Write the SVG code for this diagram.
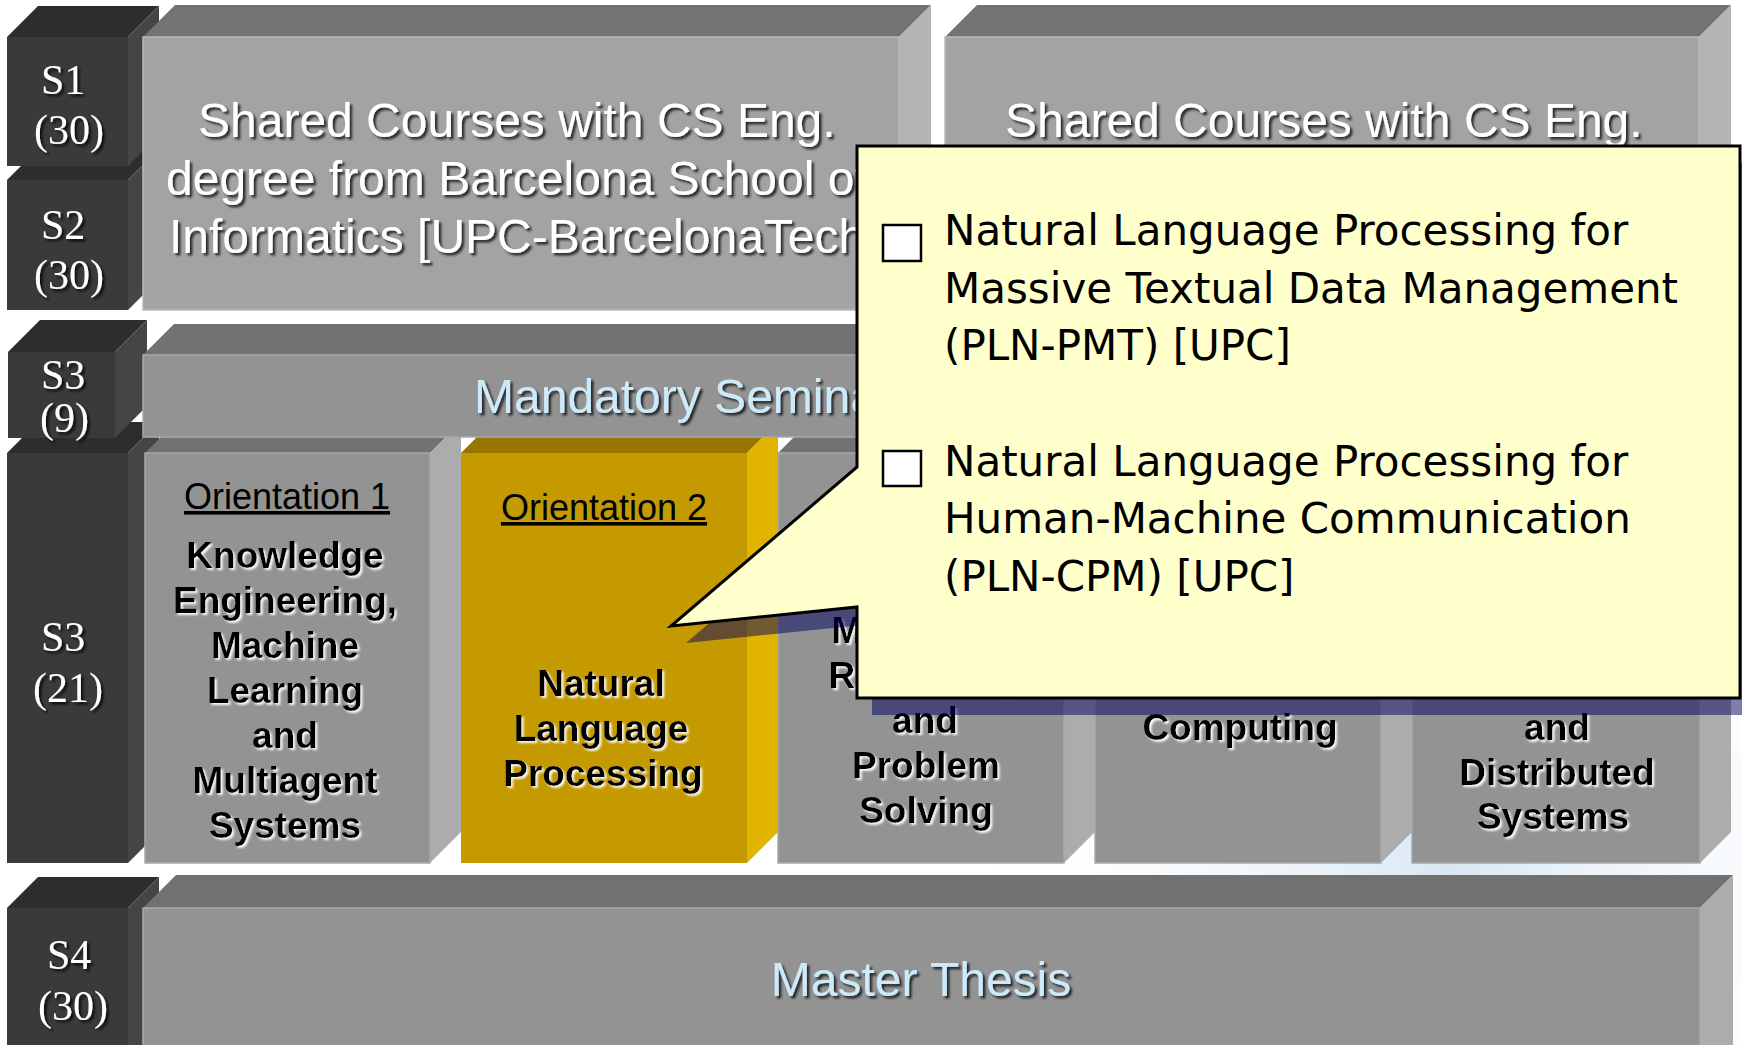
<svg xmlns="http://www.w3.org/2000/svg" width="1742" height="1045" viewBox="0 0 1742 1045">
<defs>
<style>
.dkF{fill:#3a3a3a}.dkT{fill:#2d2d2d}.dkS{fill:#454545}
.g1F{fill:#a3a3a3;stroke:#b9b9b9;stroke-width:1.5}.g1T{fill:#737373}.g1S{fill:#b4b4b4}
.g2F{fill:#939393;stroke:#a9a9a9;stroke-width:1.5}.g2T{fill:#717171}.g2S{fill:#acacac}
.orF{fill:#c49a00}.orT{fill:#987500}.orS{fill:#e1b400}
.lab{font-family:"Liberation Serif","Times New Roman",serif;font-size:42px;fill:#ffffff}
.big{font-family:"Liberation Sans",Arial,sans-serif;font-size:48px;fill:#ffffff}
.blue{font-family:"Liberation Sans",Arial,sans-serif;font-size:48px;fill:#cdeafa}
.ori{font-family:"Liberation Sans",Arial,sans-serif;font-size:36px;fill:#000000;text-anchor:middle;text-decoration:underline}
.bold{font-family:"Liberation Sans",Arial,sans-serif;font-size:37px;font-weight:bold;fill:#000000;text-anchor:middle}
.call{font-family:"DejaVu Sans",Verdana,sans-serif;font-size:42px;fill:#000000}
</style>
<filter id="dsh" x="-10%" y="-30%" width="120%" height="160%">
<feDropShadow dx="2.5" dy="2.5" stdDeviation="1.3" flood-color="#000000" flood-opacity="0.75"/>
</filter>
<filter id="lsh" x="-10%" y="-30%" width="120%" height="160%">
<feDropShadow dx="2" dy="2" stdDeviation="1" flood-color="#ffffff" flood-opacity="0.95"/>
</filter>
<radialGradient id="haze" cx="1450" cy="870" r="500" gradientUnits="userSpaceOnUse">
<stop offset="0" stop-color="#d9e7f3"/>
<stop offset="1" stop-color="#ffffff" stop-opacity="0"/>
</radialGradient>
</defs>

<rect width="1742" height="1045" fill="#ffffff"/>
<rect width="1742" height="1045" fill="url(#haze)"/>

<!-- Row 4 -->
<g id="s4">
<polygon class="dkT" points="7,908 38,877 159,877 128,908"/>
<polygon class="dkS" points="128,908 159,877 159,1060 128,1060"/>
<rect class="dkF" x="7" y="908" width="121" height="150"/>
<g filter="url(#dsh)">
<text class="lab" x="47" y="969">S4</text>
<text class="lab" x="38" y="1020">(30)</text>
</g>
</g>
<g id="master-thesis">
<polygon class="g2T" points="143,908 176,875 1733,875 1700,908"/>
<polygon class="g2S" points="1700,908 1733,875 1733,1060 1700,1060"/>
<rect class="g2F" x="143" y="908" width="1557" height="150"/>
<text class="blue" x="921" y="996" text-anchor="middle" filter="url(#dsh)">Master Thesis</text>
</g>

<!-- Row 3 -->
<g id="s3-21">
<polygon class="dkT" points="7,453 38,422 159,422 128,453"/>
<polygon class="dkS" points="128,453 159,422 159,832 128,863"/>
<rect class="dkF" x="7" y="453" width="121" height="410"/>
<g filter="url(#dsh)">
<text class="lab" x="41" y="651">S3</text>
<text class="lab" x="33" y="702">(21)</text>
</g>
</g>
<g id="orientation-1">
<polygon class="g2T" points="145,453 176,422 461,422 430,453"/>
<polygon class="g2S" points="430,453 461,422 461,832 430,863"/>
<rect class="g2F" x="145" y="453" width="285" height="410"/>
<text class="ori" x="287" y="509">Orientation 1</text>
<g filter="url(#lsh)">
<text class="bold" x="285" y="568">Knowledge</text>
<text class="bold" x="285" y="613">Engineering,</text>
<text class="bold" x="285" y="658">Machine</text>
<text class="bold" x="285" y="703">Learning</text>
<text class="bold" x="285" y="748">and</text>
<text class="bold" x="285" y="793">Multiagent</text>
<text class="bold" x="285" y="838">Systems</text>
</g>
</g>
<g id="orientation-2">
<polygon class="orT" points="461,453 492,422 778,422 747,453"/>
<polygon class="orS" points="747,453 778,422 778,832 747,863"/>
<rect class="orF" x="461" y="453" width="286" height="410"/>
<text class="ori" x="604" y="520">Orientation 2</text>
<g filter="url(#lsh)">
<text class="bold" x="601" y="696">Natural</text>
<text class="bold" x="601" y="741">Language</text>
<text class="bold" x="603" y="786">Processing</text>
</g>
</g>
<g id="orientation-3">
<polygon class="g2T" points="778,453 809,422 1095,422 1064,453"/>
<polygon class="g2S" points="1064,453 1095,422 1095,832 1064,863"/>
<rect class="g2F" x="778" y="453" width="286" height="410"/>
<g filter="url(#lsh)">
<text class="bold" x="923" y="643">Modelling,</text>
<text class="bold" x="923" y="688">Reasoning</text>
<text class="bold" x="925" y="733">and</text>
<text class="bold" x="926" y="778">Problem</text>
<text class="bold" x="926" y="823">Solving</text>
</g>
</g>
<g id="orientation-4">
<polygon class="g2T" points="1095,453 1126,422 1412,422 1381,453"/>
<polygon class="g2S" points="1381,453 1412,422 1412,832 1381,863"/>
<rect class="g2F" x="1095" y="453" width="286" height="410"/>
<g filter="url(#lsh)">
<text class="bold" x="1240" y="740">Computing</text>
</g>
</g>
<g id="orientation-5">
<polygon class="g2T" points="1412,453 1443,422 1731,422 1700,453"/>
<polygon class="g2S" points="1700,453 1731,422 1731,832 1700,863"/>
<rect class="g2F" x="1412" y="453" width="288" height="410"/>
<g filter="url(#lsh)">
<text class="bold" x="1557" y="740">and</text>
<text class="bold" x="1557" y="785">Distributed</text>
<text class="bold" x="1553" y="829">Systems</text>
</g>
</g>

<!-- Row 2 -->
<g id="s3-9">
<polygon class="dkT" points="8,352 40,320 147,320 115,352"/>
<polygon class="dkS" points="115,352 147,320 147,406 115,438"/>
<rect class="dkF" x="8" y="352" width="107" height="86"/>
<g filter="url(#dsh)">
<text class="lab" x="41" y="389" font-size="40">S3</text>
<text class="lab" x="40" y="432" font-size="40">(9)</text>
</g>
</g>
<g id="mandatory-seminars">
<polygon class="g2T" points="143,355 174,324 1730,324 1699,355"/>
<polygon class="g2S" points="1699,355 1730,324 1730,406 1699,437"/>
<rect class="g2F" x="143" y="355" width="1556" height="82"/>
<text class="blue" x="474" y="413" filter="url(#dsh)">Mandatory Seminars</text>
</g>

<!-- Row 1 -->
<g id="s2">
<polygon class="dkT" points="7,180 38,149 159,149 128,180"/>
<polygon class="dkS" points="128,180 159,149 159,279 128,310"/>
<rect class="dkF" x="7" y="180" width="121" height="130"/>
<g filter="url(#dsh)">
<text class="lab" x="41" y="239">S2</text>
<text class="lab" x="34" y="289">(30)</text>
</g>
</g>
<g id="s1">
<polygon class="dkT" points="7,37 38,6 159,6 128,37"/>
<polygon class="dkS" points="128,37 159,6 159,135 128,166"/>
<rect class="dkF" x="7" y="37" width="121" height="129"/>
<g filter="url(#dsh)">
<text class="lab" x="41" y="94">S1</text>
<text class="lab" x="34" y="144">(30)</text>
</g>
</g>
<g id="shared-courses-1">
<polygon class="g1T" points="143,37 175,5 931,5 899,37"/>
<polygon class="g1S" points="899,37 931,5 931,278 899,310"/>
<rect class="g1F" x="143" y="37" width="756" height="273"/>
<g filter="url(#dsh)">
<text class="big" x="198" y="137">Shared Courses with CS Eng.</text>
<text class="big" x="166" y="195">degree from Barcelona School of</text>
<text class="big" x="169" y="253">Informatics [UPC-BarcelonaTech]</text>
</g>
</g>
<g id="shared-courses-2">
<polygon class="g1T" points="945,37 977,5 1731,5 1699,37"/>
<polygon class="g1S" points="1699,37 1731,5 1731,278 1699,310"/>
<rect class="g1F" x="945" y="37" width="754" height="273"/>
<text class="big" x="1005" y="137" filter="url(#dsh)">Shared Courses with CS Eng.</text>
</g>

<!-- Callout -->
<g id="callout">
<path d="M872,163 H1757 V715 H872 V624 L686,643 L872,484 Z" fill="#000060" fill-opacity="0.5"/>
<path d="M857,146 H1740 V698 H857 V607 L671,626 L857,467 Z" fill="#ffffcc" stroke="#000000" stroke-width="3" stroke-linejoin="miter"/>
<rect x="883" y="225" width="38" height="36" fill="#ffffff" stroke="#000000" stroke-width="2.5"/>
<text class="call" x="944" y="245">Natural Language Processing for</text>
<text class="call" x="944" y="303">Massive Textual Data Management</text>
<text class="call" x="944" y="360">(PLN-PMT) [UPC]</text>
<rect x="883" y="451" width="38" height="35" fill="#ffffff" stroke="#000000" stroke-width="2.5"/>
<text class="call" x="944" y="476">Natural Language Processing for</text>
<text class="call" x="944" y="533">Human-Machine Communication</text>
<text class="call" x="944" y="591">(PLN-CPM) [UPC]</text>
</g>
</svg>
